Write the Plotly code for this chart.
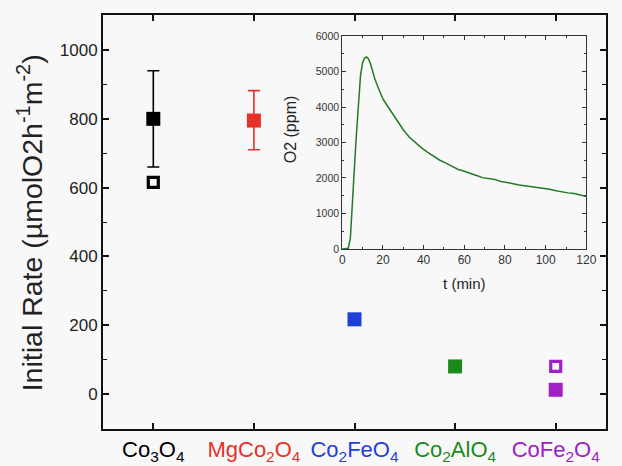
import plotly.graph_objects as go

# Catalyst categories and initial O2 evolution rates
categories = ["Co<sub>3</sub>O<sub>4</sub>", "MgCo<sub>2</sub>O<sub>4</sub>", "Co<sub>2</sub>FeO<sub>4</sub>",
              "Co<sub>2</sub>AlO<sub>4</sub>", "CoFe<sub>2</sub>O<sub>4</sub>"]
cat_colors = ["#000000", "#e8302a", "#1f3fd8", "#1a8a1a", "#a020c8"]
cat_pos = [1, 2, 3, 4, 5]

rate_filled = [800, 795, 217, 80, 12]
err_up = [140, 87, 6, 10, 8]
err_down = [140, 85, 6, 10, 8]

hollow_pos = [1, 5]
rate_hollow = [615, 80]
hollow_colors = ["#000000", "#a020c8"]

# Inset: O2 concentration trace vs time
t_min = [0, 1, 2, 3, 4, 5, 6, 7, 8, 9, 10, 11, 12, 13, 14, 15, 16, 18, 20, 22, 24, 26, 28, 30,
         33, 36, 39, 42, 45, 48, 51, 54, 57, 60, 63, 66, 69, 72, 75, 78, 81, 84, 87, 90, 93, 96,
         99, 102, 105, 108, 111, 114, 117, 120]
o2_ppm = [0, 0, 0, 20, 300, 1150, 2300, 3250, 4150, 4900, 5250, 5380, 5410, 5350, 5200, 5000,
          4800, 4500, 4230, 4050, 3880, 3700, 3530, 3360, 3150, 2990, 2850, 2720, 2600, 2500,
          2420, 2330, 2240, 2190, 2120, 2070, 2010, 1990, 1960, 1900, 1880, 1840, 1800, 1780,
          1750, 1720, 1700, 1680, 1640, 1600, 1580, 1560, 1530, 1480]

fig = go.Figure()

for x, y, eu, ed, c in zip(cat_pos, rate_filled, err_up, err_down, cat_colors):
    fig.add_trace(go.Scatter(
        x=[x], y=[y], mode="markers",
        marker=dict(symbol="square", size=14, color=c, line=dict(width=0)),
        error_y=dict(type="data", symmetric=False, array=[eu], arrayminus=[ed],
                     color=c, thickness=1.6, width=6),
        showlegend=False, xaxis="x", yaxis="y"))

for x, y, c in zip(hollow_pos, rate_hollow, hollow_colors):
    fig.add_trace(go.Scatter(
        x=[x], y=[y], mode="markers",
        marker=dict(symbol="square-open", size=10, color=c, line=dict(width=3.2, color=c)),
        showlegend=False, xaxis="x", yaxis="y"))

fig.add_trace(go.Scatter(
    x=t_min, y=o2_ppm, mode="lines", line=dict(color="#237a23", width=1.5),
    showlegend=False, xaxis="x2", yaxis="y2"))

ticktext = [f'<span style="color:{c}">{n}</span>' for n, c in zip(categories, cat_colors)]

fig.update_layout(
    width=622, height=466,
    margin=dict(l=103, r=6, t=15, b=37),
    paper_bgcolor="#f8f8f8", plot_bgcolor="rgba(0,0,0,0)",
    font=dict(family="Arial, Liberation Sans, sans-serif", color="#222222"),
    xaxis=dict(range=[0.5, 5.5], tickvals=cat_pos, ticktext=ticktext, automargin=False,
               showline=True, linecolor="#111", linewidth=1.8, mirror="ticks",
               ticks="inside", ticklen=6, tickwidth=1.5, tickcolor="#111",
               showgrid=False, zeroline=False, tickfont=dict(size=22)),
    yaxis=dict(range=[-102, 1102], tickvals=[0, 200, 400, 600, 800, 1000], automargin=False,
               showline=True, linecolor="#111", linewidth=1.8, mirror="ticks",
               ticks="inside", ticklen=6, tickwidth=1.5, tickcolor="#111",
               minor=dict(dtick=100, ticks="inside", ticklen=4, tickwidth=1.2, tickcolor="#111"),
               showgrid=False, zeroline=False, tickfont=dict(size=17)),
    xaxis2=dict(domain=[0.4756, 0.961], anchor="y2", range=[0, 120], dtick=20,
                showline=True, linecolor="#333", linewidth=1, mirror="ticks",
                ticks="inside", ticklen=4, tickcolor="#333",
                minor=dict(dtick=10, ticks="inside", ticklen=2, tickcolor="#333"),
                showgrid=False, zeroline=False, tickfont=dict(size=12, color="#333"),
                title=dict(text="t (min)", font=dict(size=15), standoff=12)),
    yaxis2=dict(domain=[0.435, 0.949], anchor="x2", range=[0, 6000], dtick=1000,
                showline=True, linecolor="#333", linewidth=1, mirror="ticks",
                ticks="inside", ticklen=4, tickcolor="#333",
                minor=dict(dtick=500, ticks="inside", ticklen=2, tickcolor="#333"),
                showgrid=False, zeroline=False, tickfont=dict(size=10.5, color="#333")),
    annotations=[
        dict(text="Initial Rate (µmolO2h<sup>-1</sup>m<sup>-2</sup>)", textangle=-90,
             xref="paper", yref="paper", x=-0.145, y=0.497, xanchor="center", yanchor="middle",
             showarrow=False, font=dict(size=28.5, color="#222222")),
        dict(text="O2 (ppm)", textangle=-90,
             xref="paper", yref="paper", x=0.3723, y=0.7246, xanchor="center", yanchor="middle",
             showarrow=False, font=dict(size=16, color="#222222")),
    ],
)

fig.write_html("out.html")
